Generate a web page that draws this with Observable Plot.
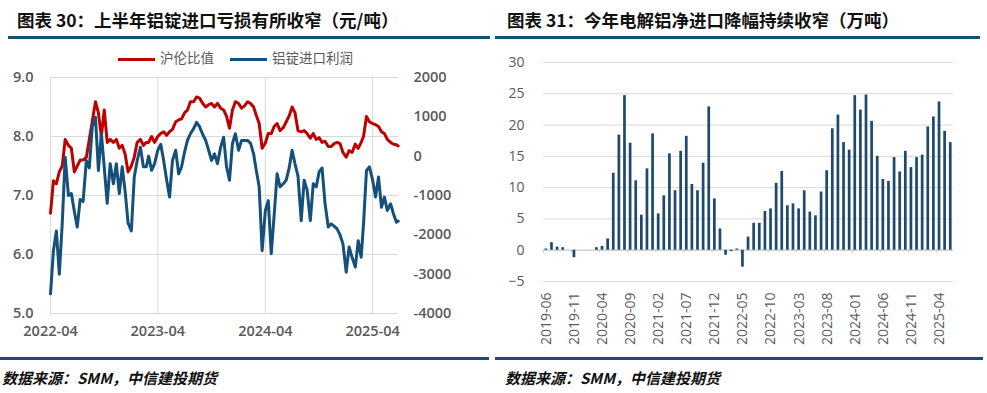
<!DOCTYPE html>
<html>
<head>
<meta charset="utf-8">
<script src="https://cdn.jsdelivr.net/npm/d3@7"></script>
<script src="https://cdn.jsdelivr.net/npm/@observablehq/plot@0.6"></script>
<style>
  html, body { margin: 0; padding: 0; background: #fff; }
  #page { position: relative; width: 987px; height: 393px; overflow: hidden; font-family: "Open Sans", "Noto Sans CJK SC", sans-serif; }
  .title { position: absolute; top: 8px; font-family: "Noto Sans CJK SC", sans-serif; font-weight: bold; font-size: 17.5px; color: #111; white-space: nowrap; line-height: 24px; }
  .rule { position: absolute; height: 3px; background: #1b4f72; }
  .caption { position: absolute; top: 368px; font-family: "Noto Sans CJK SC", sans-serif; font-style: italic; font-weight: 600; font-size: 15px; color: #111; white-space: nowrap; line-height: 20px; }
  .legend { position: absolute; top: 48px; font-family: "Noto Sans CJK SC", sans-serif; font-size: 13.5px; color: #595959; white-space: nowrap; line-height: 18px; }
  .legend span.sw { display: inline-block; width: 37px; height: 3px; vertical-align: middle; margin-right: 5px; }
  .chart { position: absolute; }
  #left text { font-weight: 600; }
</style>
</head>
<body>
<div id="page">
  <div class="title" style="left:17px;">图表 30：上半年铝锭进口亏损有所收窄（元/吨）</div>
  <div class="title" style="left:507px;">图表 31：今年电解铝净进口降幅持续收窄（万吨）</div>
  <div class="rule" style="left:8px; width:482px; top:36px;"></div>
  <div class="rule" style="left:495px; width:485px; top:36px;"></div>
  <div class="legend" style="left:118px;"><span class="sw" style="background:#c00000"></span>沪伦比值<span style="display:inline-block;width:16px"></span><span class="sw" style="background:#15507a"></span>铝锭进口利润</div>
  <div id="left" class="chart" style="left:0px; top:65px;"></div>
  <div id="right" class="chart" style="left:495px; top:50px;"></div>
  <div class="rule" style="left:0px; width:489px; top:357px;"></div>
  <div class="rule" style="left:495px; width:488px; top:357px;"></div>
  <div class="caption" style="left:2px;">数据来源：SMM，中信建投期货</div>
  <div class="caption" style="left:505px;">数据来源：SMM，中信建投期货</div>
</div>
<script>
// ---------- Left chart data (沪伦比值 & 铝锭进口利润) ----------
const lineDates = [
  "2022-04-01","2022-04-11","2022-04-21","2022-05-01","2022-05-11","2022-05-21","2022-06-01","2022-06-11","2022-06-21",
  "2022-07-01","2022-07-11","2022-07-21","2022-08-01","2022-08-11","2022-08-21","2022-09-01","2022-09-11","2022-09-21",
  "2022-10-01","2022-10-11","2022-10-21","2022-11-01","2022-11-11","2022-11-21","2022-12-01","2022-12-11","2022-12-21",
  "2023-01-01","2023-01-11","2023-01-21","2023-02-01","2023-02-11","2023-02-21","2023-03-01","2023-03-11","2023-03-21",
  "2023-04-01","2023-04-11","2023-04-21","2023-05-01","2023-05-11","2023-05-21","2023-06-01","2023-06-11","2023-06-21",
  "2023-07-01","2023-07-11","2023-07-21","2023-08-01","2023-08-11","2023-08-21","2023-09-01","2023-09-11","2023-09-21",
  "2023-10-01","2023-10-11","2023-10-21","2023-11-01","2023-11-11","2023-11-21","2023-12-01","2023-12-11","2023-12-21",
  "2024-01-01","2024-01-11","2024-01-21","2024-02-01","2024-02-11","2024-02-21","2024-03-01","2024-03-11","2024-03-21",
  "2024-04-01","2024-04-11","2024-04-21","2024-05-01","2024-05-11","2024-05-21","2024-06-01","2024-06-11","2024-06-21",
  "2024-07-01","2024-07-11","2024-07-21","2024-08-01","2024-08-11","2024-08-21","2024-09-01","2024-09-11","2024-09-21",
  "2024-10-01","2024-10-11","2024-10-21","2024-11-01","2024-11-11","2024-11-21","2024-12-01","2024-12-11","2024-12-21",
  "2025-01-01","2025-01-11","2025-01-21","2025-02-01","2025-02-11","2025-02-21","2025-03-01","2025-03-11","2025-03-21",
  "2025-04-01","2025-04-11","2025-04-21","2025-05-01","2025-05-11","2025-05-21","2025-06-01","2025-06-11","2025-06-21",
  "2025-06-27"
];
const ratioValues = [
  6.70,7.25,7.20,7.40,7.50,7.95,7.85,7.80,7.40,
  7.50,7.60,7.60,7.65,7.95,8.25,8.59,8.40,8.00,
  8.45,7.90,7.95,7.90,7.95,7.80,7.85,7.70,7.40,
  7.50,7.65,7.90,7.95,7.85,7.90,7.90,8.00,7.90,
  8.00,8.05,8.08,8.02,8.08,8.12,8.25,8.28,8.30,
  8.40,8.45,8.59,8.59,8.67,8.65,8.56,8.50,8.54,
  8.56,8.50,8.56,8.48,8.45,8.34,8.14,8.45,8.59,
  8.56,8.48,8.52,8.59,8.56,8.50,8.36,8.22,7.80,
  7.89,8.05,8.05,8.17,8.22,8.10,8.15,8.25,8.35,
  8.50,8.40,8.10,8.08,8.10,8.05,7.97,8.05,7.95,
  7.98,7.90,7.92,7.83,7.83,7.88,7.90,7.88,7.73,
  7.65,7.76,7.73,7.87,7.80,7.90,8.00,8.34,8.25,
  8.22,8.20,8.17,8.08,8.05,7.95,7.90,7.87,7.86,
  7.84
];
const profitValues = [
  -3500,-2400,-1900,-3000,-1700,-25,-1000,-950,-1400,
  -1800,-1100,-1150,-110,-300,740,990,-365,580,
  -300,-1200,-190,-700,-190,-950,-270,-900,-1700,
  -1900,-530,-110,230,-270,-270,0,-360,-190,
  150,300,-110,-600,-1040,-110,150,-450,-270,
  100,400,570,700,860,750,550,400,150,
  -110,60,-190,230,480,-270,-610,320,570,
  150,400,400,400,320,60,-360,-780,-2400,
  -1380,-1130,-2480,-1500,-450,-780,-700,-610,-300,
  150,-200,-500,-1640,-610,-860,-1640,-700,-780,
  -400,-300,-1200,-1800,-1720,-1780,-1850,-2000,-2230,
  -2950,-2310,-2570,-2820,-2150,-2570,-1720,-370,-270,
  -610,-1040,-530,-1300,-1040,-1380,-1210,-1470,-1680,
  -1650
];
const leftTicks = [5, 6, 7, 8, 9];
const profitTicks = [-4000, -3000, -2000, -1000, 0, 1000, 2000];
const leftXTicks = ["2022-04-01", "2023-04-01", "2024-04-01", "2025-04-01"];

// ---------- Right chart data (电解铝净进口, 万吨) ----------
const months = [
  "2019-06","2019-07","2019-08","2019-09","2019-10","2019-11","2019-12",
  "2020-01","2020-02","2020-03","2020-04","2020-05","2020-06","2020-07","2020-08","2020-09","2020-10","2020-11","2020-12",
  "2021-01","2021-02","2021-03","2021-04","2021-05","2021-06","2021-07","2021-08","2021-09","2021-10","2021-11","2021-12",
  "2022-01","2022-02","2022-03","2022-04","2022-05","2022-06","2022-07","2022-08","2022-09","2022-10","2022-11","2022-12",
  "2023-01","2023-02","2023-03","2023-04","2023-05","2023-06","2023-07","2023-08","2023-09","2023-10","2023-11","2023-12",
  "2024-01","2024-02","2024-03","2024-04","2024-05","2024-06","2024-07","2024-08","2024-09","2024-10","2024-11","2024-12",
  "2025-01","2025-02","2025-03","2025-04","2025-05","2025-06"
];
const netImports = [
  0.2,1.2,0.5,0.4,0.0,-1.2,0.0,
  0.0,0.0,0.4,0.6,1.8,12.3,18.4,24.7,17.1,11.1,5.6,13.0,
  18.6,5.8,8.7,15.4,9.5,15.8,18.2,10.5,9.5,13.9,22.9,8.2,
  3.4,-0.8,-0.2,0.2,-2.7,2.1,4.3,4.3,6.2,6.6,10.7,12.6,
  7.1,7.4,6.6,9.5,6.1,5.5,9.3,12.7,19.4,21.6,17.2,16.0,
  24.7,22.4,24.8,20.6,15.0,11.3,11.0,14.8,12.5,15.8,13.2,14.8,
  15.2,19.7,21.3,23.7,19.0,17.2
];
const rightYTicks = [-5, 0, 5, 10, 15, 20, 25, 30];
const rightXTicks = ["2019-06","2019-11","2020-04","2020-09","2021-02","2021-07","2021-12","2022-05","2022-10","2023-03","2023-08","2024-01","2024-06","2024-11","2025-04"];

// ---------- Build ----------
const parse = d3.utcParse("%Y-%m-%d");
const toR = p => 5 + (p + 4000) / 1500;      // profit -> ratio-axis units
const fromR = r => Math.round((r - 5) * 1500 - 4000);
const lineData = lineDates.map((d, i) => ({date: parse(d), ratio: ratioValues[i], profit: profitValues[i]}));

const axisStyle = {fontFamily: "'Open Sans', 'Noto Sans CJK SC', sans-serif", fontSize: "15px", color: "#595959", background: "transparent", overflow: "visible"};

const left = Plot.plot({
  width: 490, height: 280,
  marginLeft: 50, marginRight: 92, marginTop: 12, marginBottom: 32,
  style: {...axisStyle, fontSize: "14.5px"},
  x: {type: "utc", domain: [parse("2022-04-01"), parse("2025-06-28")], label: null},
  y: {domain: [5, 9], label: null},
  marks: [
    Plot.gridY(leftTicks, {stroke: "#d9d9d9", strokeOpacity: 1}),
    Plot.gridX(leftXTicks.map(parse), {stroke: "#d9d9d9", strokeOpacity: 1}),
    Plot.line(lineData, {x: "date", y: "ratio", stroke: "#c00000", strokeWidth: 3, strokeLinejoin: "round"}),
    Plot.line(lineData, {x: "date", y: d => toR(d.profit), stroke: "#15507a", strokeWidth: 3, strokeLinejoin: "round"}),
    Plot.axisY(leftTicks, {anchor: "left", tickSize: 0, tickPadding: 17, tickFormat: d3.format(".1f"), label: null}),
    Plot.axisY(profitTicks.map(toR), {anchor: "right", tickSize: 0, tickPadding: 15, tickFormat: r => String(fromR(r)), label: null}),
    Plot.axisX(leftXTicks.map(parse), {anchor: "bottom", tickSize: 0, tickPadding: 12, tickFormat: d3.utcFormat("%Y-%m"), label: null})
  ]
});
document.getElementById("left").appendChild(left);

const barData = months.map((m, i) => ({month: m, value: netImports[i]}));
const right = Plot.plot({
  width: 490, height: 296,
  marginLeft: 48, marginRight: 32, marginTop: 12, marginBottom: 65,
  style: {...axisStyle, fontSize: "14px"},
  x: {type: "band", domain: months, padding: 0, label: null},
  y: {domain: [-5, 30], label: null},
  marks: [
    Plot.gridY(rightYTicks, {stroke: "#d9d9d9", strokeOpacity: 1}),
    Plot.ruleY([0], {stroke: "#c8c8c8"}),
    Plot.ruleX(rightXTicks, {x: d => d, y1: 0, y2: -0.45, stroke: "#c8c8c8", dx: -2.8}),
    Plot.barY(barData, {x: "month", y: "value", fill: "#1f4a6e", insetLeft: 1.5, insetRight: 1.4}),
    Plot.axisY(rightYTicks, {anchor: "left", tickSize: 0, tickPadding: 19, label: null}),
    Plot.axisX(rightXTicks, {anchor: "bottom", tickSize: 0, tickPadding: 11, tickRotate: -90, label: null})
  ]
});
document.getElementById("right").appendChild(right);
</script>
</body>
</html>
